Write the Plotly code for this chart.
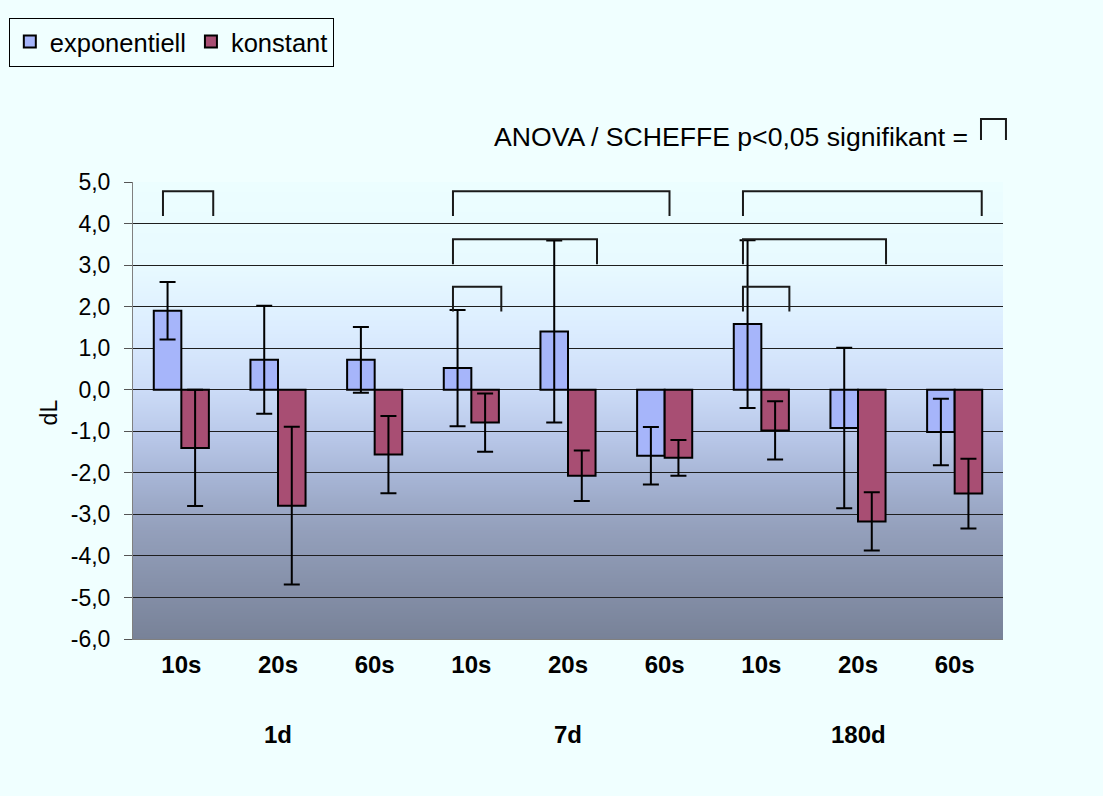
import base64
import struct
import zlib

import plotly.graph_objects as go

# --- data -------------------------------------------------------------
categories = ["10s", "20s", "60s", "10s", "20s", "60s", "10s", "20s", "60s"]
groups = ["1d", "7d", "180d"]
group_center_index = [1, 4, 7]

exponentiell = [1.90, 0.72, 0.72, 0.52, 1.40, -1.59, 1.58, -0.92, -1.02]
exponentiell_err = [0.69, 1.30, 0.79, 1.40, 2.19, 0.69, 2.02, 1.93, 0.80]
konstant = [-1.40, -2.79, -1.56, -0.79, -2.07, -1.64, -0.98, -3.17, -2.50]
konstant_err = [1.40, 1.90, 0.93, 0.70, 0.61, 0.43, 0.70, 0.70, 0.84]

# significant comparisons (category from, category to, bracket height)
sig_from = [0, 3, 3, 3, 6, 6, 6]
sig_to = [0, 5, 4, 3, 8, 7, 6]
sig_level = [4.78, 4.78, 3.62, 2.48, 4.78, 3.62, 2.48]

y_ticks = [5, 4, 3, 2, 1, 0, -1, -2, -3, -4, -5, -6]

# --- styling ----------------------------------------------------------
FONT = "Liberation Sans, Arial, Helvetica, sans-serif"
PAGE_BG = "#F0FFFF"
BLUE = "#A6B5FA"
RED = "#A84E73"
Y_MIN, Y_MAX = -6, 5
X_MIN, X_MAX = -0.5, len(categories) - 0.5

err_style = dict(type="data", symmetric=True, color="black", thickness=2, width=8)

fig = go.Figure()
fig.add_trace(go.Bar(
    x=list(range(len(categories))), y=exponentiell, name="exponentiell",
    marker=dict(color=BLUE, line=dict(color="black", width=2)),
    error_y=dict(array=exponentiell_err, **err_style),
))
fig.add_trace(go.Bar(
    x=list(range(len(categories))), y=konstant, name="konstant",
    marker=dict(color=RED, line=dict(color="black", width=2)),
    error_y=dict(array=konstant_err, **err_style),
))

# vertical gradient behind the plot area, rendered as a one-pixel-wide PNG
stops = [
    (0.00, (236, 254, 255)),
    (0.18, (232, 250, 255)),
    (0.32, (220, 237, 255)),
    (0.45, (205, 221, 248)),
    (0.56, (184, 199, 232)),
    (0.66, (164, 178, 210)),
    (0.76, (148, 160, 188)),
    (0.88, (134, 145, 170)),
    (1.00, (120, 130, 152)),
]


def lerp_colour(t):
    for (t0, c0), (t1, c1) in zip(stops[:-1], stops[1:]):
        if t0 <= t <= t1:
            f = (t - t0) / (t1 - t0) if t1 > t0 else 0
            return tuple(round(a + (b - a) * f) for a, b in zip(c0, c1))
    return stops[-1][1]


def gradient_png(rows):
    raw = b"".join(b"\x00" + bytes(lerp_colour((i + 0.5) / rows)) for i in range(rows))

    def chunk(tag, data):
        body = tag + data
        return struct.pack(">I", len(data)) + body + struct.pack(">I", zlib.crc32(body) & 0xFFFFFFFF)

    png = b"\x89PNG\r\n\x1a\n"
    png += chunk(b"IHDR", struct.pack(">IIBBBBB", 1, rows, 8, 2, 0, 0, 0))
    png += chunk(b"IDAT", zlib.compress(raw, 9))
    png += chunk(b"IEND", b"")
    return "data:image/png;base64," + base64.b64encode(png).decode()


images = [dict(
    source=gradient_png(460), xref="x", yref="y", x=X_MIN, y=Y_MAX,
    sizex=X_MAX - X_MIN, sizey=Y_MAX - Y_MIN, sizing="stretch",
    xanchor="left", yanchor="top", layer="below",
)]

shapes = []

# significance brackets
left_pad = -0.19
right_pad = [0.33, 0.05, 0.30, 0.31, 0.28, 0.29, 0.29]
leg_drop = 0.6
for a, b, lvl, rp in zip(sig_from, sig_to, sig_level, right_pad):
    x0 = a + left_pad
    x1 = b + rp
    shapes.append(dict(
        type="path", xref="x", yref="y", layer="above",
        path=f"M {x0},{lvl - leg_drop} L {x0},{lvl} L {x1},{lvl} L {x1},{lvl - leg_drop}",
        line=dict(color="#1a1a1a", width=2),
    ))

# bracket glyph next to the explanatory note
shapes.append(dict(
    type="path", xref="paper", yref="paper", layer="above",
    path="M 0.9747,1.092 L 0.9747,1.138 L 1.0034,1.138 L 1.0034,1.092",
    line=dict(color="#1a1a1a", width=2),
))

annotations = [
    dict(text="ANOVA / SCHEFFE p&lt;0,05 signifikant =", xref="paper", yref="paper",
         x=0.9625, y=1.099, xanchor="right", yanchor="middle", showarrow=False,
         font=dict(family=FONT, size=26.6, color="black")),
    dict(text="dL", xref="paper", yref="paper", x=-0.097, y=0.495,
         textangle=-90, xanchor="center", yanchor="middle", showarrow=False,
         font=dict(family=FONT, size=23, color="black")),
]
for g, idx in zip(groups, group_center_index):
    annotations.append(dict(
        text=f"<b>{g}</b>", xref="x", yref="paper", x=idx, y=-0.21,
        xanchor="center", yanchor="middle", showarrow=False,
        font=dict(family=FONT, size=24, color="black"),
    ))

fig.update_layout(
    width=1103, height=796,
    margin=dict(l=133, r=100, t=182, b=157, pad=0, autoexpand=False),
    paper_bgcolor=PAGE_BG, plot_bgcolor="rgba(0,0,0,0)",
    barmode="group", bargap=0.43, bargroupgap=0,
    font=dict(family=FONT, color="black"),
    shapes=shapes, annotations=annotations, images=images,
    legend=dict(
        orientation="h", xref="container", yref="container",
        x=0.008, y=0.978, xanchor="left", yanchor="top",
        bgcolor=PAGE_BG, bordercolor="black", borderwidth=1,
        font=dict(family=FONT, size=25.5, color="black"),
        traceorder="normal", itemclick=False,
    ),
    xaxis=dict(
        range=[X_MIN, X_MAX], tickvals=list(range(len(categories))),
        ticktext=[f"<b>{c}</b>" for c in categories],
        tickfont=dict(family=FONT, size=24, color="black"),
        showgrid=False, zeroline=False, ticks="",
        showline=True, linecolor="#808080", linewidth=1,
        ticklabelstandoff=4, fixedrange=True,
    ),
    yaxis=dict(
        range=[Y_MIN, Y_MAX], tickvals=y_ticks,
        ticktext=[f"{v:.1f}".replace(".", ",") for v in y_ticks],
        tickfont=dict(family=FONT, size=23, color="black"),
        showgrid=True, gridcolor="#1e1e1e", gridwidth=1, zeroline=False,
        ticks="outside", ticklen=8, tickcolor="#555555", tickwidth=1,
        showline=True, linecolor="#808080", linewidth=1,
        ticklabelstandoff=9, fixedrange=True,
    ),
)

fig.write_html("out.html")
